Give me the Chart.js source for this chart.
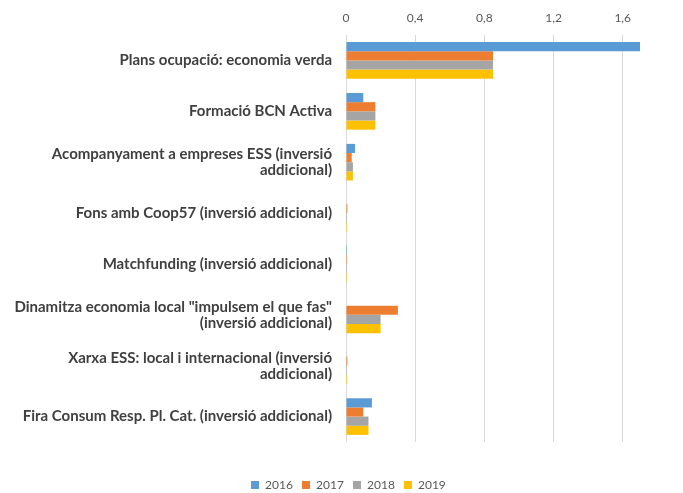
<!DOCTYPE html>
<html>
<head>
<meta charset="utf-8">
<script src="https://cdn.jsdelivr.net/npm/chart.js@4"></script>
<style>
  html, body { margin: 0; padding: 0; background: #fff; }
  #wrap { width: 683px; height: 493px; }
</style>
</head>
<body>
<div id="wrap"><canvas id="chart"></canvas></div>
<script>
// Categories and values
const categories = [
  'Plans ocupació: economia verda',
  'Formació BCN Activa',
  ['Acompanyament a empreses ESS (inversió', 'addicional)'],
  'Fons amb Coop57 (inversió addicional)',
  'Matchfunding (inversió addicional)',
  ['Dinamitza economia local "impulsem el que fas"', '(inversió addicional)'],
  ['Xarxa ESS: local i internacional (inversió', 'addicional)'],
  'Fira Consum Resp. Pl. Cat. (inversió addicional)'
];
const years = ['2016', '2017', '2018', '2019'];
const values2016 = [1.70, 0.10, 0.052, 0, 0.006, 0, 0, 0.15];
const values2017 = [0.85, 0.17, 0.033, 0.008, 0.006, 0.30, 0.008, 0.10];
const values2018 = [0.85, 0.17, 0.04, 0.006, 0.006, 0.20, 0.006, 0.13];
const values2019 = [0.85, 0.17, 0.04, 0.006, 0.006, 0.20, 0.006, 0.13];
const tickValues = [0, 0.4, 0.8, 1.2, 1.6];
const colors = ['#5B9BD5', '#ED7D31', '#A5A5A5', '#FFC000'];

const series = [values2016, values2017, values2018, values2019];
const font = 'Lato, "Liberation Sans", sans-serif';

// nudge the legend a bit to the right, like the original
const legendShift = {
  id: 'legendShift',
  afterLayout(chart) {
    chart.legend.left += 10;
    chart.legend.right += 10;
  }
};

new Chart(document.getElementById('chart').getContext('2d'), {
  type: 'bar',
  data: {
    labels: categories,
    datasets: series.map((vals, i) => ({
      label: years[i],
      data: vals,
      backgroundColor: colors[i],
      barPercentage: 1,
      categoryPercentage: 0.72
    }))
  },
  options: {
    indexAxis: 'y',
    responsive: true,
    maintainAspectRatio: false,
    animation: false,
    layout: { padding: { left: 0, right: 0, top: 0, bottom: -8 } },
    plugins: {
      legend: {
        position: 'bottom',
        labels: {
          boxWidth: 8,
          boxHeight: 8,
          padding: 3,
          color: '#595959',
          font: { family: font, size: 12 },
          generateLabels: chart => Chart.defaults.plugins.legend.labels.generateLabels(chart)
            .map(l => ({ ...l, text: l.text + '  ' }))
        }
      },
      tooltip: { enabled: false }
    },
    scales: {
      x: {
        position: 'top',
        min: 0,
        max: 1.7,
        ticks: {
          color: '#595959',
          padding: 10,
          font: { family: font, size: 12 },
          callback: v => String(Math.round(v * 10) / 10).replace('.', ',')
        },
        afterBuildTicks: scale => { scale.ticks = tickValues.map(v => ({ value: v })); },
        afterFit: scale => { scale.height = 35; },
        grid: { color: '#D9D9D9', lineWidth: 1, drawTicks: false },
        border: { display: false }
      },
      xGap: {
        type: 'linear',
        axis: 'x',
        position: 'bottom',
        display: true,
        ticks: { display: false },
        grid: { display: false },
        border: { display: false },
        afterFit: scale => { scale.height = 34; }
      },
      y: {
        ticks: {
          color: '#404040',
          padding: 6,
          font: { family: font, size: 15, weight: 'bold', lineHeight: 1.07 }
        },
        afterFit: scale => { scale.width = 346; },
        grid: { display: false },
        border: { display: false }
      },
      yGap: {
        type: 'category',
        axis: 'y',
        position: 'right',
        display: true,
        ticks: { display: false },
        grid: { display: false },
        border: { display: false },
        afterFit: scale => { scale.width = 43; }
      }
    }
  },
  plugins: [legendShift]
});
</script>
</body>
</html>
